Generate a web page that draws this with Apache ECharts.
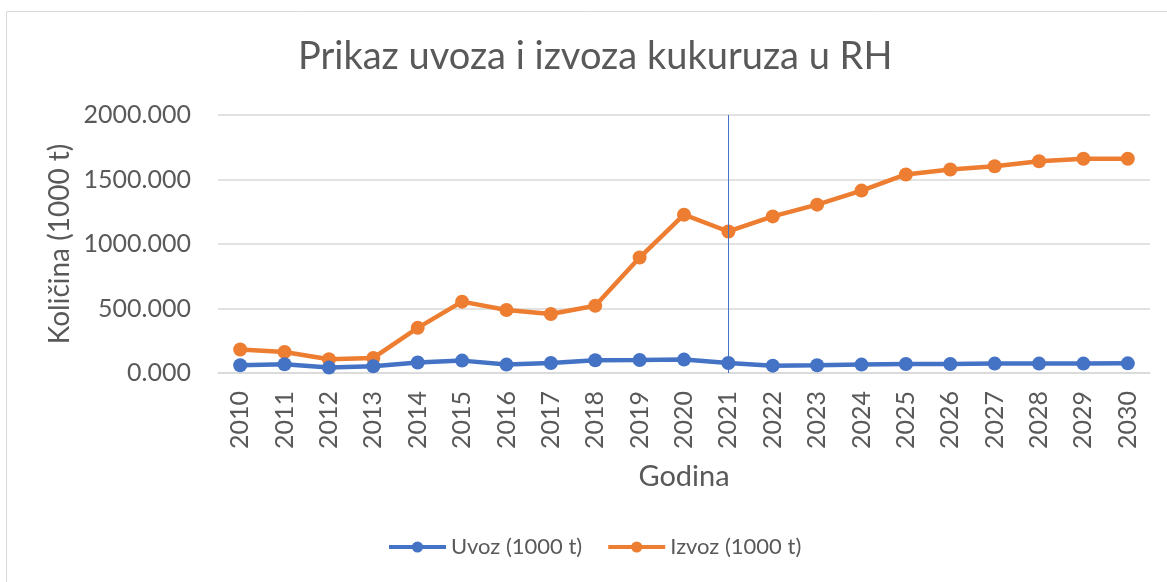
<!DOCTYPE html>
<html>
<head>
<meta charset="utf-8">
<script src="https://cdn.jsdelivr.net/npm/echarts@6/dist/echarts.min.js"></script>
<style>
html,body{margin:0;padding:0;background:#fff;}
#c{width:1167px;height:582px;}
</style>
</head>
<body>
<div id="c"></div>
<script>
const years = ['2010','2011','2012','2013','2014','2015','2016','2017','2018','2019','2020','2021','2022','2023','2024','2025','2026','2027','2028','2029','2030'];
const uvoz = [60, 68, 42, 52, 81, 96, 65, 78, 99, 101, 104, 78, 57, 60, 65, 70, 70, 73, 73, 73, 75];
const izvoz = [182, 163, 107, 117, 350, 553, 488, 457, 521, 895, 1227, 1097, 1214, 1305, 1414, 1539, 1578, 1603, 1642, 1661, 1661];
const yTicks = [0, 500, 1000, 1500, 2000];
const markYear = '2021';

const txt = '#595959';
const font = 'Lato, "Open Sans", sans-serif';
const markIdx = years.indexOf(markYear);
const chart = echarts.init(document.getElementById('c'));
chart.setOption({
  backgroundColor: '#fff',
  animation: false,
  textStyle: {fontFamily: font},
  graphic: [{
    type: 'rect', left: 4, top: 9, shape: {width: 1170, height: 580},
    style: {fill: 'none', stroke: '#d9d9d9', lineWidth: 1}, silent: true
  }],
  title: {
    text: 'Prikaz uvoza i izvoza kukuruza u RH',
    left: 293, top: 33,
    textStyle: {fontFamily: font, fontSize: 38, fontWeight: 'normal', color: txt}
  },
  legend: {
    bottom: 19, left: 382,
    itemWidth: 57, itemHeight: 14, itemGap: 24,
    lineStyle: {width: 4},
    textStyle: {fontFamily: font, fontSize: 22, color: txt},
    data: ['Uvoz (1000 t)', 'Izvoz (1000 t)']
  },
  grid: {left: 218, right: 17, top: 115, bottom: 209, containLabel: false},
  xAxis: {
    type: 'category', data: years, boundaryGap: true,
    name: 'Godina', nameLocation: 'middle', nameGap: 89,
    nameTextStyle: {fontFamily: font, fontSize: 29, color: txt},
    axisLine: {lineStyle: {color: '#d9d9d9', width: 1.5}},
    axisTick: {show: false},
    axisLabel: {rotate: 90, fontSize: 25, color: txt, margin: 18, fontFamily: font}
  },
  yAxis: {
    type: 'value', min: yTicks[0], max: yTicks[yTicks.length-1], interval: 500,
    name: 'Količina (1000 t)', nameLocation: 'middle', nameGap: 158,
    nameMoveOverlap: false,
    nameTextStyle: {fontFamily: font, fontSize: 28, color: txt, verticalAlign: 'middle'},
    axisLine: {show: false}, axisTick: {show: false},
    splitLine: {lineStyle: {color: '#d9d9d9', width: 1.5}},
    axisLabel: {fontSize: 25, color: txt, margin: 27, fontFamily: font,
      formatter: v => v.toFixed(3)}
  },
  series: [
    {
      name: 'Uvoz (1000 t)', type: 'line', data: uvoz,
      symbol: 'circle', symbolSize: 14, z: 3,
      itemStyle: {color: '#4472C4'},
      lineStyle: {color: '#4472C4', width: 4.5}
    },
    {
      name: 'Izvoz (1000 t)', type: 'line', data: izvoz,
      symbol: 'circle', symbolSize: 14, z: 2,
      itemStyle: {color: '#ED7D31'},
      lineStyle: {color: '#ED7D31', width: 4.5},
      markLine: {
        silent: true, symbol: 'none', label: {show: false}, z: 5,
        lineStyle: {color: '#4472C4', width: 1, type: 'solid'},
        data: [[{coord: [markIdx, 0]}, {coord: [markIdx, yTicks[yTicks.length-1]]}]]
      }
    }
  ]
});
</script>
</body>
</html>
